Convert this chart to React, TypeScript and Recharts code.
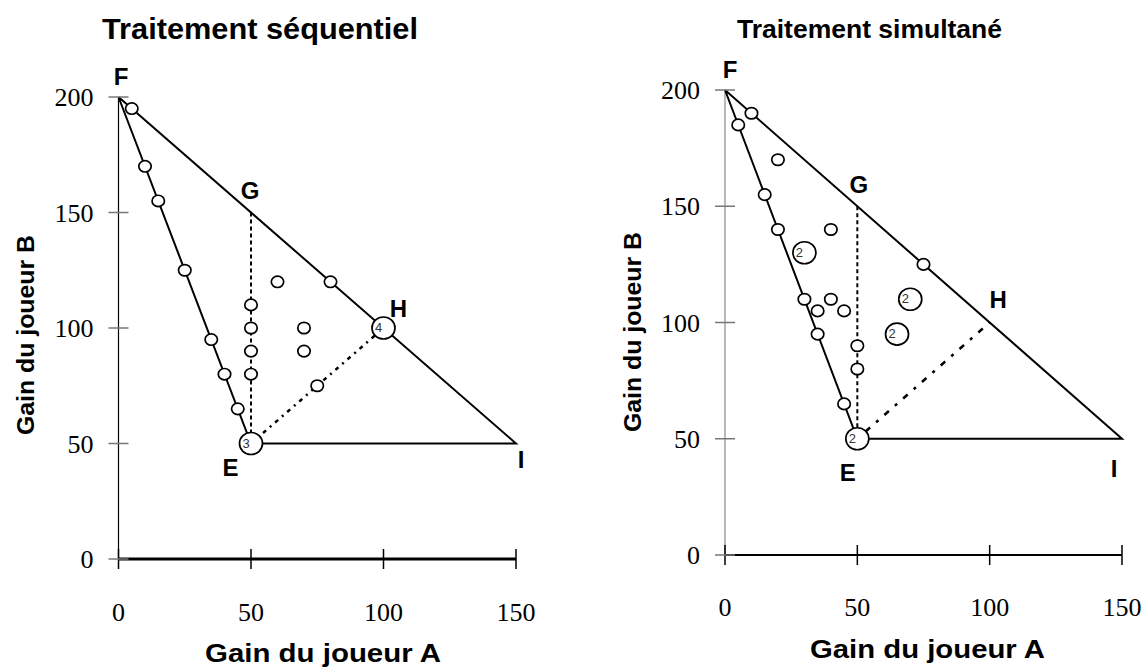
import React from "react";
import { ScatterChart, Scatter, XAxis, YAxis } from "recharts";

const xTicks = [0, 50, 100, 150];
const yTicks = [0, 50, 100, 150, 200];

// corners of the triangle and the two interior points
const vertexNames = ["F", "G", "H", "E", "I"];
const vertexX = [0, 50, 100, 50, 150];
const vertexY = [200, 150, 100, 50, 50];

const triangleOrder = ["F", "I", "E", "F"];
const guideGE = ["G", "E"];
const guideEH = ["E", "H"];

// observed offers, n = number of identical observations
const seqPoints = [
  { x: 5, y: 195, n: 1 },
  { x: 10, y: 170, n: 1 },
  { x: 15, y: 155, n: 1 },
  { x: 25, y: 125, n: 1 },
  { x: 35, y: 95, n: 1 },
  { x: 40, y: 80, n: 1 },
  { x: 45, y: 65, n: 1 },
  { x: 50, y: 110, n: 1 },
  { x: 50, y: 100, n: 1 },
  { x: 50, y: 90, n: 1 },
  { x: 50, y: 80, n: 1 },
  { x: 60, y: 120, n: 1 },
  { x: 80, y: 120, n: 1 },
  { x: 70, y: 100, n: 1 },
  { x: 70, y: 90, n: 1 },
  { x: 75, y: 75, n: 1 },
  { x: 50, y: 50, n: 3 },
  { x: 100, y: 100, n: 4 },
];

const simPoints = [
  { x: 10, y: 190, n: 1 },
  { x: 5, y: 185, n: 1 },
  { x: 20, y: 170, n: 1 },
  { x: 15, y: 155, n: 1 },
  { x: 20, y: 140, n: 1 },
  { x: 40, y: 140, n: 1 },
  { x: 30, y: 130, n: 2 },
  { x: 75, y: 125, n: 1 },
  { x: 30, y: 110, n: 1 },
  { x: 35, y: 105, n: 1 },
  { x: 40, y: 110, n: 1 },
  { x: 45, y: 105, n: 1 },
  { x: 35, y: 95, n: 1 },
  { x: 50, y: 90, n: 1 },
  { x: 50, y: 80, n: 1 },
  { x: 45, y: 65, n: 1 },
  { x: 70, y: 110, n: 2 },
  { x: 65, y: 95, n: 2 },
  { x: 50, y: 50, n: 2 },
];

const vertex = (name: string) => {
  const i = vertexNames.indexOf(name);
  return { x: vertexX[i], y: vertexY[i], name };
};
const vertexData = vertexNames.map(vertex);

const SANS = "Liberation Sans, Arial, sans-serif";
const SERIF = "Liberation Serif, Times New Roman, serif";

type Offsets = Record<string, { dx: number; dy: number }>;

const seqOffsets: Offsets = {
  F: { dx: 2.5, dy: -12 },
  G: { dx: -1, dy: -13.5 },
  H: { dx: 15, dy: -11 },
  E: { dx: -20.5, dy: 32.5 },
  I: { dx: 5, dy: 24.5 },
};
const simOffsets: Offsets = {
  F: { dx: 5, dy: -12 },
  G: { dx: 1.5, dy: -13 },
  H: { dx: 8.5, dy: -15 },
  E: { dx: -9.5, dy: 42 },
  I: { dx: -8, dy: 38 },
};

const nothing = () => <g />;

function Marker(props: any) {
  const { cx, cy, payload } = props;
  const n = payload?.n ?? 1;
  if (n <= 1) {
    return (
      <ellipse cx={cx} cy={cy} rx={6.2} ry={5.7} fill="#fff" stroke="#000" strokeWidth={1.7} />
    );
  }
  return (
    <g>
      <ellipse cx={cx} cy={cy} rx={11.5} ry={11} fill="#fff" stroke="#000" strokeWidth={1.7} />
      <text x={cx - 5} y={cy + 4} textAnchor="middle" fontFamily={SANS} fontSize={13} fill="#333">
        {n}
      </text>
    </g>
  );
}

type PanelProps = {
  left: number;
  width: number;
  margin: { top: number; right: number; bottom: number; left: number };
  yAxisWidth: number;
  points: { x: number; y: number; n: number }[];
  offsets: Offsets;
  xAxisWidth: number;
  yAxisColor: string;
  xLabelDy: number;
  ehDash: string;
};

function Panel({
  left,
  width,
  margin,
  yAxisWidth,
  points,
  offsets,
  xAxisWidth,
  yAxisColor,
  xLabelDy,
  ehDash,
}: PanelProps) {
  return (
    <div style={{ position: "absolute", left, top: 0 }}>
      <ScatterChart width={width} height={668} margin={margin}>
        <XAxis
          type="number"
          dataKey="x"
          domain={[0, 150]}
          ticks={xTicks}
          interval={0}
          height={30}
          tickSize={0}
          tickMargin={0}
          tickLine={false}
          axisLine={{ stroke: "#000", strokeWidth: xAxisWidth }}
          tick={(p: any) => (
            <g>
              <line x1={p.x} x2={p.x} y1={p.y - 10} y2={p.y + 10} stroke="#000" strokeWidth={1.5} />
              <text x={p.x} y={p.y + xLabelDy} textAnchor="middle" fontFamily={SERIF} fontSize={26} fill="#000">
                {p.payload.value}
              </text>
            </g>
          )}
        />
        <YAxis
          type="number"
          dataKey="y"
          domain={[0, 200]}
          ticks={yTicks}
          interval={0}
          width={yAxisWidth}
          tickSize={0}
          tickMargin={0}
          tickLine={false}
          axisLine={{ stroke: yAxisColor, strokeWidth: 1.2 }}
          tick={(p: any) => (
            <g>
              <line x1={p.x - 10} x2={p.x + 10} y1={p.y} y2={p.y} stroke="#777" strokeWidth={1.5} />
              <text x={p.x - 25} y={p.y + 9} textAnchor="end" fontFamily={SERIF} fontSize={26} fill="#000">
                {p.payload.value}
              </text>
            </g>
          )}
        />
        <Scatter
          data={triangleOrder.map(vertex)}
          fill="#000"
          line={{ stroke: "#000", strokeWidth: 2 }}
          shape={nothing}
          isAnimationActive={false}
        />
        <Scatter
          data={guideGE.map(vertex)}
          fill="#000"
          line={{ stroke: "#000", strokeWidth: 2, strokeDasharray: "4 3" }}
          shape={nothing}
          isAnimationActive={false}
        />
        <Scatter
          data={guideEH.map(vertex)}
          fill="#000"
          line={{ stroke: "#000", strokeWidth: 2.5, strokeDasharray: ehDash }}
          shape={nothing}
          isAnimationActive={false}
        />
        <Scatter data={points} fill="#fff" shape={Marker} isAnimationActive={false} />
        <Scatter
          data={vertexData}
          fill="#000"
          isAnimationActive={false}
          shape={(p: any) => {
            const o = offsets[p.payload.name];
            return (
              <text
                x={p.cx + o.dx}
                y={p.cy + o.dy}
                textAnchor="middle"
                fontFamily={SANS}
                fontWeight="bold"
                fontSize={24}
                fill="#000"
              >
                {p.payload.name}
              </text>
            );
          }}
        />
      </ScatterChart>
    </div>
  );
}

export default function App() {
  return (
    <div style={{ position: "absolute", left: 0, top: 0, width: 1146, height: 668, background: "#fff" }}>
      <Panel
        left={0}
        width={560}
        margin={{ top: 97, right: 44, bottom: 79, left: 0 }}
        yAxisWidth={118.5}
        points={seqPoints}
        offsets={seqOffsets}
        xAxisWidth={3}
        yAxisColor="#000"
        xLabelDy={62}
        ehDash="4 5 2 5"
      />
      <Panel
        left={580}
        width={566}
        margin={{ top: 90, right: 24, bottom: 83, left: 0 }}
        yAxisWidth={145}
        points={simPoints}
        offsets={simOffsets}
        xAxisWidth={2}
        yAxisColor="#888"
        xLabelDy={61}
        ehDash="3 8 6 8"
      />
      <svg
        width={1146}
        height={668}
        style={{ position: "absolute", left: 0, top: 0, pointerEvents: "none" }}
      >
        <g fontFamily={SANS} fontWeight="bold" fill="#000">
          <text x={102} y={39} fontSize={29} textLength={316} lengthAdjust="spacingAndGlyphs">
            Traitement séquentiel
          </text>
          <text x={737} y={38} fontSize={26.5} textLength={265} lengthAdjust="spacingAndGlyphs">
            Traitement simultané
          </text>
          <text x={205} y={662} fontSize={25} textLength={236} lengthAdjust="spacingAndGlyphs">
            Gain du joueur A
          </text>
          <text x={810} y={658} fontSize={25} textLength={235} lengthAdjust="spacingAndGlyphs">
            Gain du joueur A
          </text>
          <text
            transform="translate(34 435) rotate(-90)"
            fontSize={24}
            textLength={200}
            lengthAdjust="spacingAndGlyphs"
          >
            Gain du joueur B
          </text>
          <text
            transform="translate(641 432) rotate(-90)"
            fontSize={24}
            textLength={200}
            lengthAdjust="spacingAndGlyphs"
          >
            Gain du joueur B
          </text>
        </g>
      </svg>
    </div>
  );
}
